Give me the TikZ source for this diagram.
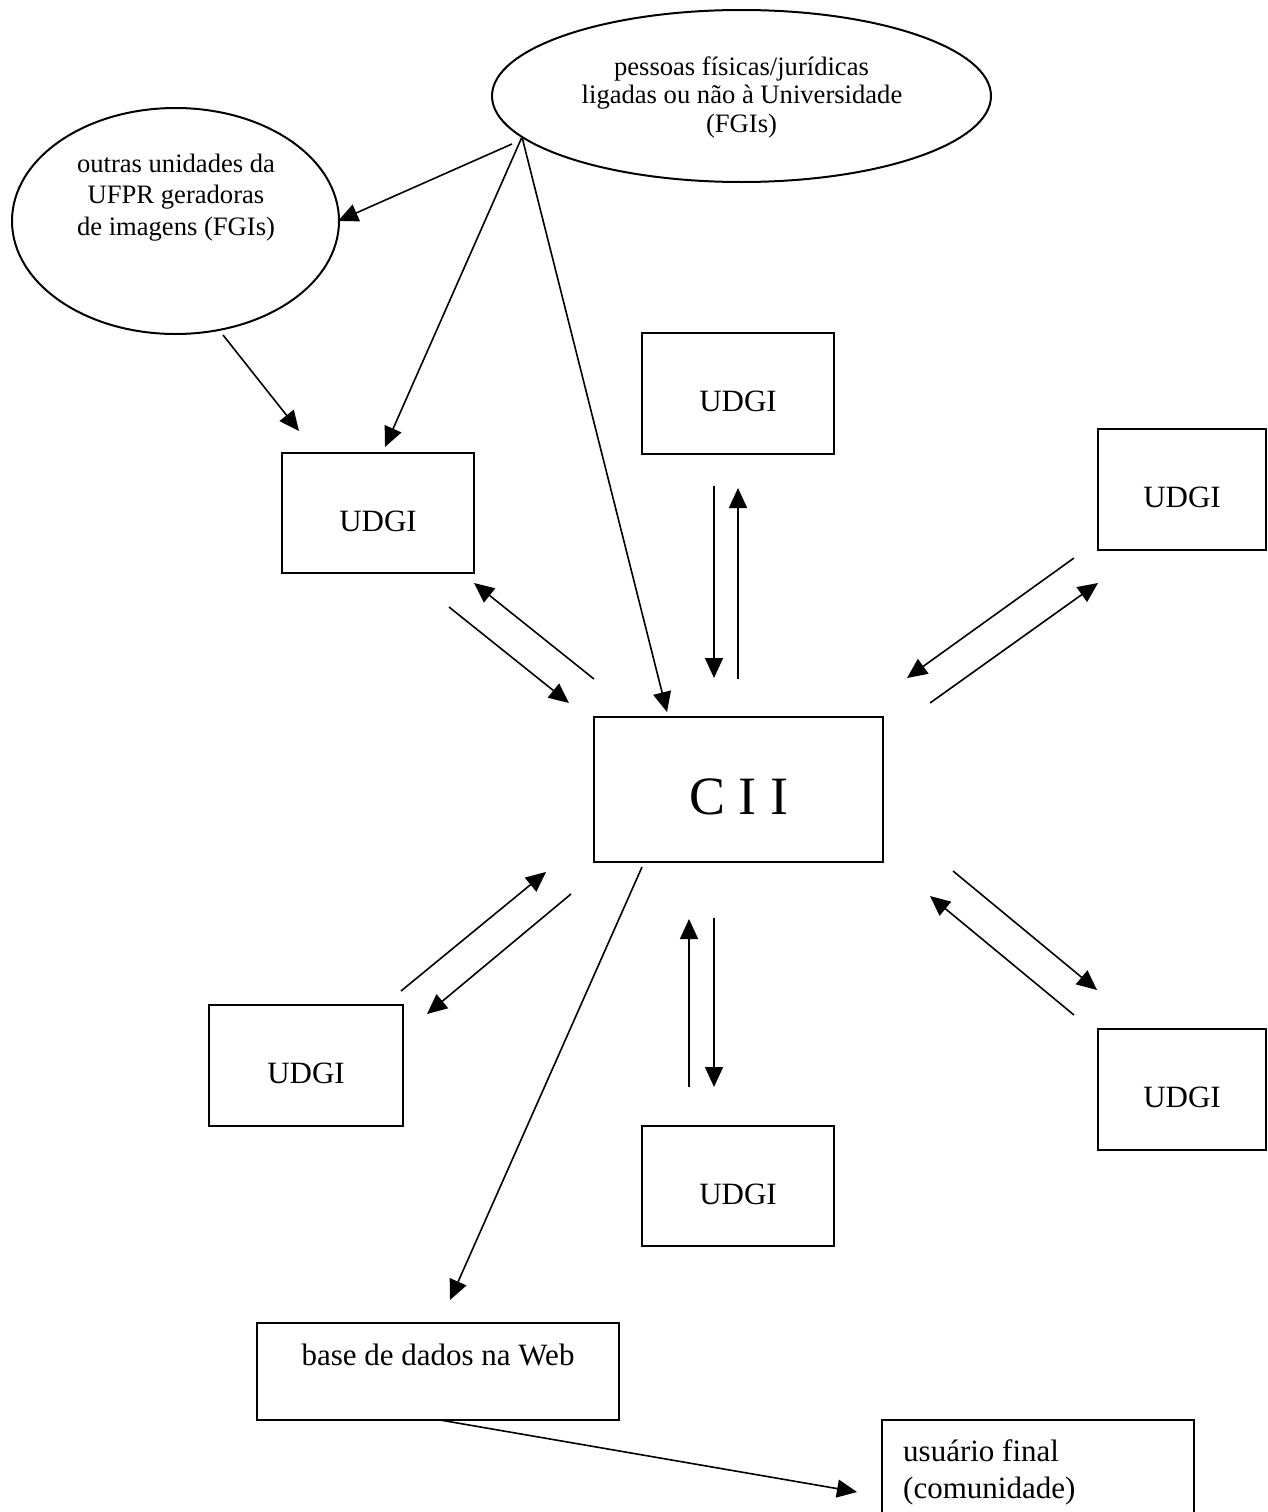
\documentclass[tikz,border=0pt]{standalone}
\usepackage{fontspec}
\setmainfont{Liberation Serif}
\usetikzlibrary{shapes.geometric,arrows.meta}
\newcommand\ovalfont{\fontsize{26.6pt}{30.6pt}\selectfont}
\newcommand\udgifont{\fontsize{31pt}{36pt}\selectfont}
\newcommand\ciifont{\fontsize{54pt}{60pt}\selectfont}
\begin{document}
\begin{tikzpicture}[x=1pt,y=-1pt,
  conn/.style={line width=1.6pt,-{Triangle[length=20pt,width=18pt]}},
  box/.style={draw,rectangle,line width=2pt,inner sep=0pt},
  udgi/.style={box,font=\udgifont,text height=36.5pt,text depth=0pt},
  ciibox/.style={box,font=\ciifont,text height=50.7pt,text depth=0pt},
  oval/.style={draw,ellipse,line width=2pt,inner sep=0pt},
  otext/.style={font=\ovalfont,anchor=base,inner sep=0pt},
  btext/.style={font=\udgifont,inner sep=0pt}]
\fill[white] (0,0) rectangle (1267,1512);
\useasboundingbox (0,0) rectangle (1267,1512);
\clip (0,0) rectangle (1267,1512);

% ellipses
\node[oval,minimum width=499pt,minimum height=172pt] (pf) at (741.5,96) {};
\node[otext] (pf1) at (741.5,75) {pessoas físicas/jurídicas};
\node[otext] (pf2) at (742,103.5) {ligadas ou não à Universidade};
\node[otext] (pf3) at (741.5,132) {(FGIs)};

\node[oval,minimum width=327pt,minimum height=226pt] (ou) at (175.5,221) {};
\node[otext] (ou1) at (176,172) {outras unidades da};
\node[otext] (ou2) at (176,203.5) {UFPR geradoras};
\node[otext] (ou3) at (176,235) {de imagens (FGIs)};

% boxes
\node[udgi,minimum width=192pt,minimum height=120pt] (u1) at (378,513) {UDGI};
\node[udgi,minimum width=192pt,minimum height=121pt] (u2) at (738,393.5) {UDGI};
\node[udgi,minimum width=168pt,minimum height=121pt] (u3) at (1182,489.5) {UDGI};
\node[udgi,minimum width=168pt,minimum height=121pt] (u4) at (1182,1089.5) {UDGI};
\node[udgi,minimum width=192pt,minimum height=120pt] (u5) at (738,1186) {UDGI};
\node[udgi,minimum width=194pt,minimum height=121pt] (u6) at (306,1065.5) {UDGI};
\node[ciibox,minimum width=289pt,minimum height=145pt] (cii) at (738.5,789.5) {C I I};

\node[box,minimum width=362pt,minimum height=97pt] (db) at (438,1371.5) {};
\node[btext,anchor=base] (dbt) at (438,1365) {base de dados na Web};
\node[box,minimum width=312pt,minimum height=120pt] (usr) at (1038,1480) {};
\node[btext,anchor=base west] (usr1) at (903,1461) {usuário final};
\node[btext,anchor=base west] (usr2) at (903,1498) {(comunidade)};

% connector end points
\coordinate (pfA) at (512,144);
\coordinate (pfV) at (522,137);
\coordinate (ouR) at (338,221);
\coordinate (u1T) at (385,447);
\coordinate (ciiT) at (667,712);
\coordinate (ouB) at (223,335);
\coordinate (u1L) at (299,431);
\coordinate (a5s) at (594,679);  \coordinate (a5e) at (474,583);
\coordinate (a6s) at (449,607);  \coordinate (a6e) at (569,703);
\coordinate (a7s) at (714,486);  \coordinate (a7e) at (714,678);
\coordinate (a8s) at (738,679);  \coordinate (a8e) at (738,488);
\coordinate (a9s) at (1074,558); \coordinate (a9e) at (907,678);
\coordinate (a10s) at (930,703); \coordinate (a10e) at (1098,583);
\coordinate (a11s) at (401,991); \coordinate (a11e) at (546,872);
\coordinate (a12s) at (571,894); \coordinate (a12e) at (427,1014);
\coordinate (a13s) at (642,867); \coordinate (a13e) at (450,1300);
\coordinate (a14s) at (689,1087); \coordinate (a14e) at (689,919);
\coordinate (a15s) at (714,918); \coordinate (a15e) at (714,1087);
\coordinate (a16s) at (953,871); \coordinate (a16e) at (1097,990);
\coordinate (a17s) at (1074,1015); \coordinate (a17e) at (930,896);
\coordinate (a18s) at (440,1420); \coordinate (a18e) at (857,1492);

% connectors
\draw[conn] (pfA) -- (ouR);
\draw[conn] (pfV) -- (u1T);
\draw[conn] (pfV) -- (ciiT);
\draw[conn] (ouB) -- (u1L);
\draw[conn] (a5s) -- (a5e);
\draw[conn] (a6s) -- (a6e);
\draw[conn] (a7s) -- (a7e);
\draw[conn] (a8s) -- (a8e);
\draw[conn] (a9s) -- (a9e);
\draw[conn] (a10s) -- (a10e);
\draw[conn] (a11s) -- (a11e);
\draw[conn] (a12s) -- (a12e);
\draw[conn] (a13s) -- (a13e);
\draw[conn] (a14s) -- (a14e);
\draw[conn] (a15s) -- (a15e);
\draw[conn] (a16s) -- (a16e);
\draw[conn] (a17s) -- (a17e);
\draw[conn] (a18s) -- (a18e);
\end{tikzpicture}
\end{document}
